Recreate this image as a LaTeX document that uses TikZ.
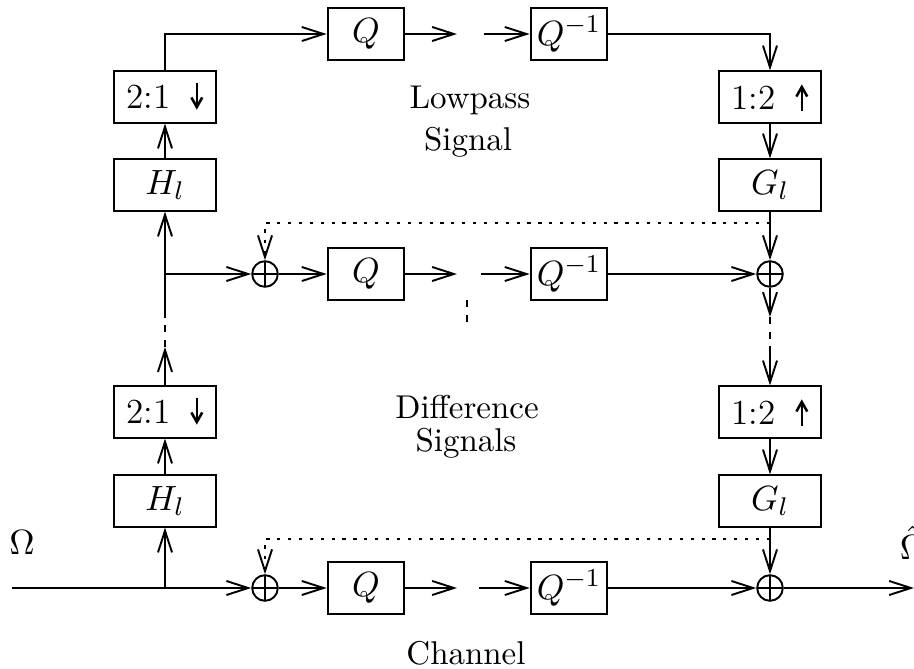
\documentclass[tikz,border=0pt]{standalone}
\usetikzlibrary{arrows.meta}
% small rate-change arrows used inside the decimator / interpolator boxes
\newcommand\dnsym{\tikz[baseline=0pt,x=1pt,y=1pt]\draw[line width=0.8pt,-{Straight Barb[length=3pt,width=3.4pt]}] (0,8) -- (0,-0.2);}
\newcommand\upsym{\tikz[baseline=0pt,x=1pt,y=1pt]\draw[line width=0.8pt,-{Straight Barb[length=3pt,width=3.4pt]}] (0,-0.2) -- (0,8);}
\begin{document}
\begin{tikzpicture}[x=0.3125pt,y=-0.3125pt,
  line width=0.6pt,
  >={Straight Barb[length=6.8pt,width=4.4pt,line width=0.6pt]},
  boxfont/.style={font=\fontsize{11}{13}\selectfont},
  wide/.style={draw,boxfont,line width=0.6pt,minimum width=32pt,minimum height=16pt,inner sep=0pt},
  narrow/.style={draw,boxfont,line width=0.6pt,minimum width=24pt,minimum height=16pt,inner sep=0pt},
  sum/.style={circle,draw,line width=0.6pt,minimum size=8pt,inner sep=0pt,
    path picture={\draw[line width=0.6pt] (path picture bounding box.north) -- (path picture bounding box.south)
                  (path picture bounding box.west) -- (path picture bounding box.east);}},
  fb/.style={dash pattern=on 1pt off 2.4pt},
  skip/.style={dash pattern=on 2.2pt off 2.4pt},
  lbl/.style={font=\fontsize{10.3}{12}\selectfont}]
\useasboundingbox (0,0) rectangle (914,669);

% ---- lowpass branch ----
\node[wide]   (dA) at (165,97)  {2:1\;\;\dnsym};
\node[wide]   (hA) at (165,185) {$H_l$};
\node[narrow] (qA) at (366,34)  {$Q$};
\node[narrow] (iA) at (569,34)  {$Q^{-1}$};
\node[wide]   (uA) at (770,97)  {1:2\;\;\upsym};
\node[wide]   (gA) at (770,185) {$G_l$};
\coordinate (gapA1) at (457,34);
\coordinate (gapA2) at (484,34);

% ---- first difference branch ----
\coordinate (jA) at (165,274);
\node[sum]    (sA) at (265,274) {};
\node[narrow] (qB) at (366,274) {$Q$};
\node[narrow] (iB) at (569,274) {$Q^{-1}$};
\node[sum]    (tA) at (770,274) {};
\coordinate (gapB1) at (457,274);
\coordinate (gapB2) at (481,274);
\coordinate (fA) at (770,223);

% ---- elided levels ----
\coordinate (lA1) at (165,311);
\coordinate (lA2) at (165,347);
\coordinate (rA1) at (770,317);
\coordinate (rA2) at (770,349);
\coordinate (mA) at (467,300);
\coordinate (mB) at (467,329);

% ---- finest level / channel ----
\node[wide]   (dB) at (165,412) {2:1\;\;\dnsym};
\node[wide]   (hB) at (165,501) {$H_l$};
\node[wide]   (uB) at (770,412) {1:2\;\;\upsym};
\node[wide]   (gB) at (770,501) {$G_l$};
\coordinate (in) at (12,588);
\coordinate (jB) at (165,588);
\node[sum]    (sB) at (265,588) {};
\node[narrow] (qC) at (366,588) {$Q$};
\node[narrow] (iC) at (569,588) {$Q^{-1}$};
\node[sum]    (tB) at (770,588) {};
\coordinate (out) at (914,588);
\coordinate (gapC1) at (457,588);
\coordinate (gapC2) at (479,588);
\coordinate (fB) at (770,539);

% ---- labels ----
\node[lbl] (lp)  at (470,100) {Lowpass};
\node[lbl] (sg)  at (468,142) {Signal};
\node[lbl] (df)  at (467,407) {Difference};
\node[lbl] (sgs) at (466,443) {Signals};
\node[lbl] (ch)  at (466,653) {Channel};
\node[boxfont] (om)  at (22,543)  {$\Omega$};
\node[boxfont,anchor=west,inner sep=0pt] (omh) at (899,543) {$\hat\Omega$};

% ---- connectors: lowpass ----
\draw[->] (dA.north) |- (qA.west);
\draw[->] (qA.east) -- (gapA1);
\draw[->] (gapA2) -- (iA.west);
\draw[->] (iA.east) -| (uA.north);
\draw[->] (uA.south) -- (gA.north);
\draw[->] (gA.south) -- (tA.north);
\draw[->] (hA.north) -- (dA.south);
\draw[->] (jA) -- (hA.south);

% ---- connectors: first difference ----
\draw[->] (jA) -- (sA.west);
\draw[->] (sA.east) -- (qB.west);
\draw[->] (qB.east) -- (gapB1);
\draw[->] (gapB2) -- (iB.west);
\draw[->] (iB.east) -- (tA.west);
\draw[fb,->] (fA) -| (sA.north);

% ---- elided levels ----
\draw (lA1) -- (jA);
\draw[skip] (lA2) -- (lA1);
\draw[->] (dB.north) -- (lA2);
\draw[->] (tA.south) -- (rA1);
\draw[skip] (rA1) -- (rA2);
\draw[->] (rA2) -- (uB.north);
\draw[skip] (mA) -- (mB);

% ---- connectors: finest level ----
\draw[->] (hB.north) -- (dB.south);
\draw[->] (jB) -- (hB.south);
\draw[->] (uB.south) -- (gB.north);
\draw[->] (gB.south) -- (tB.north);
\draw[->] (in) -- (sB.west);
\draw[->] (sB.east) -- (qC.west);
\draw[->] (qC.east) -- (gapC1);
\draw[->] (gapC2) -- (iC.west);
\draw[->] (iC.east) -- (tB.west);
\draw[->] (tB.east) -- (out);
\draw[fb,->] (fB) -| (sB.north);
\end{tikzpicture}
\end{document}
